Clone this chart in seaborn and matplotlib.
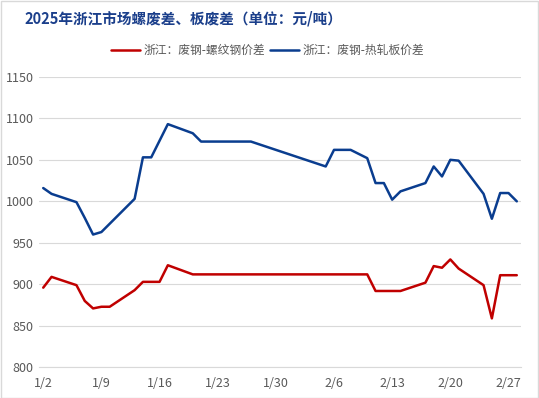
import matplotlib
matplotlib.use("Agg")
import matplotlib.pyplot as plt
import matplotlib.dates as mdates
from matplotlib.patches import Rectangle
import seaborn as sns
import pandas as pd

# trading days (2025)
dates = ["1/2", "1/3", "1/6", "1/7", "1/8", "1/9", "1/10", "1/13", "1/14", "1/15",
         "1/16", "1/17", "1/20", "1/21", "1/22", "1/23", "1/24", "1/27", "2/5", "2/6",
         "2/7", "2/8", "2/10", "2/11", "2/12", "2/13", "2/14", "2/17", "2/18", "2/19",
         "2/20", "2/21", "2/24", "2/25", "2/26", "2/27", "2/28"]

# 废钢-螺纹钢价差
rebar_spread = [896, 909, 899, 880, 871, 873, 873, 893, 903, 903,
                903, 923, 912, 912, 912, 912, 912, 912, 912, 912,
                912, 912, 912, 892, 892, 892, 892, 902, 922, 920,
                930, 919, 899, 859, 911, 911, 911]

# 废钢-热轧板价差
hrc_spread = [1016, 1009, 999, 980, 960, 963, 973, 1003, 1053, 1053,
              1073, 1093, 1082, 1072, 1072, 1072, 1072, 1072, 1042, 1062,
              1062, 1062, 1052, 1022, 1022, 1002, 1012, 1022, 1042, 1030,
              1050, 1049, 1009, 979, 1010, 1010, 1000]

series_names = ["浙江：废钢-螺纹钢价差", "浙江：废钢-热轧板价差"]
colors = ["#C00000", "#0A3D8F"]
tick_dates = ["1/2", "1/9", "1/16", "1/23", "1/30", "2/6", "2/13", "2/20", "2/27"]

def to_date(s):
    return pd.Timestamp("2025/" + s)

x = [to_date(d) for d in dates]
df = pd.DataFrame({
    "date": x + x,
    "value": rebar_spread + hrc_spread,
    "series": [series_names[0]] * len(x) + [series_names[1]] * len(x),
})

sns.set_style("white")
plt.rcParams["font.family"] = ["Noto Sans CJK SC", "DejaVu Sans"]

fig = plt.figure(figsize=(5.39, 3.98), dpi=100)
ax = fig.add_axes([0.0725, 0.077, 0.894, 0.730])

sns.lineplot(data=df, x="date", y="value", hue="series", palette=colors,
             linewidth=1.8, ax=ax, legend=False)

# x axis: date bands, labels centred on the day, tick marks at band edges
half = pd.Timedelta(hours=12)
ax.set_xlim(x[0] - half, x[-1] + half)
major = [to_date(d) for d in tick_dates]
ax.set_xticks(major)
ax.set_xticklabels(tick_dates)
ax.set_xticks([d - half for d in major], minor=True)
ax.tick_params(axis="x", which="major", length=0, pad=7, labelsize=9, labelcolor="#595959")
ax.tick_params(axis="x", which="minor", length=4, width=0.8, color="#D9D9D9", direction="out")

ax.set_ylim(800, 1150)
ax.set_yticks(range(800, 1151, 50))
ax.tick_params(axis="y", length=0, pad=4, labelsize=9, labelcolor="#595959")
ax.yaxis.grid(True, color="#D9D9D9", linewidth=0.8)
ax.set_axisbelow(True)

for side in ["left", "right", "top"]:
    ax.spines[side].set_visible(False)
ax.spines["bottom"].set_color("#D9D9D9")
ax.spines["bottom"].set_linewidth(0.8)
ax.set_xlabel("")
ax.set_ylabel("")

handles = [plt.Line2D([], [], color=c, linewidth=1.8) for c in colors]
leg = fig.legend(handles, series_names, loc="center", bbox_to_anchor=(0.497, 0.874),
                 ncol=2, frameon=False, fontsize=8.5, handlelength=2.4,
                 handletextpad=0.35, columnspacing=0.4)
for t in leg.get_texts():
    t.set_color("#595959")

fig.text(0.046, 0.953, "2025年浙江市场螺废差、板废差（单位：元/吨）",
         fontsize=10.5, fontweight="bold", color="#1B3F8B", va="center", ha="left")

fig.patches.append(Rectangle((0.001, 0.001), 0.997, 0.997, transform=fig.transFigure,
                             fill=False, edgecolor="#D9D9D9", linewidth=1))

fig.savefig("out.png", dpi=100)
plt.close(fig)
